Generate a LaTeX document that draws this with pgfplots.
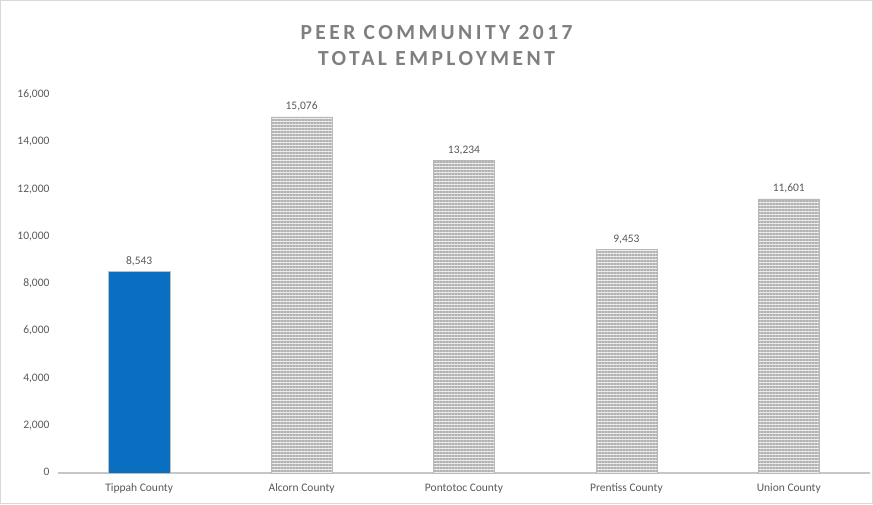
\documentclass[border=0pt]{standalone}
\usepackage{fontspec}
\setmainfont{Carlito}
\newfontfamily\titlefont[LetterSpace=16]{Carlito}
\usepackage{pgfplots}
\pgfplotsset{compat=1.18}
\usetikzlibrary{patterns.meta}
\definecolor{txt}{HTML}{595959}
\definecolor{ttl}{HTML}{7F7F7F}
\definecolor{bblue}{HTML}{0B6FC1}
\begin{document}
\begin{tikzpicture}
\begin{axis}[
  scale only axis,
  width=812pt, height=378pt,
  xmin=-0.5, xmax=4.5,
  ymin=0, ymax=16000,
  ytick={0,2000,...,16000},
  scaled y ticks=false,
  xtick={0,1,2,3,4},
  xticklabels={Tippah County,Alcorn County,Pontotoc County,Prentiss County,Union County},
  typeset ticklabels with strut,
  axis x line*=bottom,
  axis y line*=left,
  y axis line style={draw=none},
  x axis line style={draw=gray!45, line width=1.8pt, -},
  major tick length=0pt,
  ticklabel style={font=\fontsize{11.5}{13}\selectfont, text=txt},
  xticklabel style={yshift=-6pt},
  yticklabel style={xshift=-5pt},
  /pgf/number format/.cd, 1000 sep={,}, assume math mode=true,
  /pgfplots/.cd,
  ybar, bar width=61pt,
  nodes near coords,
  every node near coord/.append style={font=\fontsize{11.5}{13}\selectfont, text=txt, yshift=2pt},
  clip=false,
]
\addplot[bar shift=0pt, fill=bblue, draw=gray!50] coordinates {(0,8543)};
\addplot[bar shift=0pt, fill=gray!15, draw=gray!55,
  postaction={pattern={Lines[angle=0, distance=3pt, line width=1.2pt]}, pattern color=gray!60}]
  coordinates {(1,15076) (2,13234) (3,9453) (4,11601)};
\end{axis}
\draw[gray!30, line width=1pt] (-57.5pt,-30.5pt) rectangle (814.5pt,472.5pt);
\node[align=center, text=ttl, font=\titlefont\bfseries\fontsize{21.5}{26}\selectfont] at (378.5pt,427pt) {PEER COMMUNITY 2017\\TOTAL EMPLOYMENT};
\end{tikzpicture}
\end{document}
